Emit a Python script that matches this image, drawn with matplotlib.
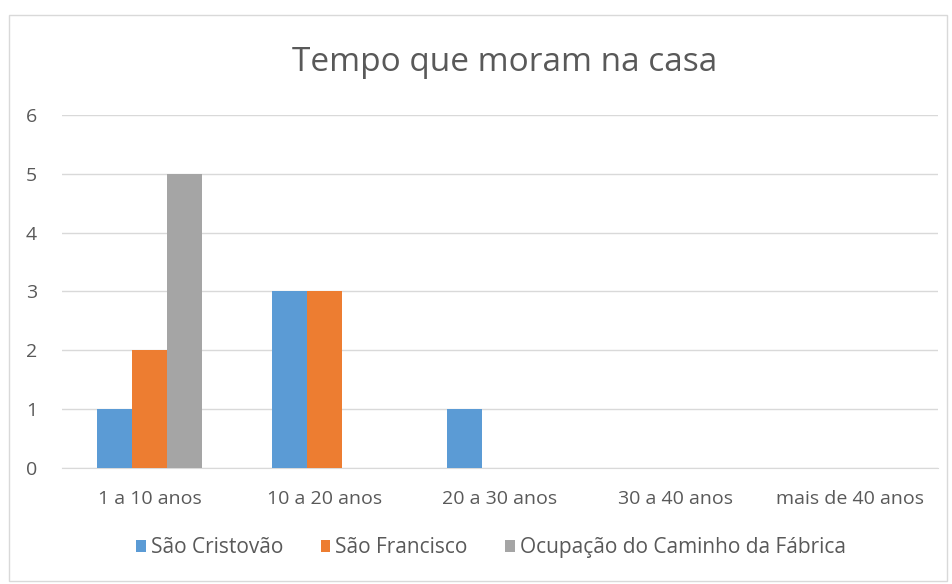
import matplotlib.pyplot as plt
import numpy as np

categorias = ["1 a 10 anos", "10 a 20 anos", "20 a 30 anos", "30 a 40 anos", "mais de 40 anos"]
sao_cristovao = [1, 3, 1, 0, 0]
sao_francisco = [2, 3, 0, 0, 0]
ocupacao = [5, 0, 0, 0, 0]
series = ["São Cristovão", "São Francisco", "Ocupação do Caminho da Fábrica"]
cores = ["#5B9BD5", "#ED7D31", "#A5A5A5"]

plt.rcParams["font.family"] = ["Open Sans", "DejaVu Sans"]
texto = "#595959"

fig = plt.figure(figsize=(9.53, 5.84), dpi=100)
ax = fig.add_axes([0.065, 0.199, 0.919, 0.604])

x = np.arange(len(categorias))
w = 0.2
for i, (vals, nome) in enumerate(zip([sao_cristovao, sao_francisco, ocupacao], series)):
    ax.bar(x + (i - 1) * w, vals, w, color=cores[i], label=nome, zorder=3)

ax.set_xlim(-0.5, len(categorias) - 0.5)
ax.set_ylim(0, 6)
ax.set_yticks(range(7))
ax.set_xticks(x)
ax.set_xticklabels(categorias)
ax.grid(axis="y", color="#D9D9D9", linewidth=1, zorder=0)
for s in ["top", "right", "left"]:
    ax.spines[s].set_visible(False)
ax.spines["bottom"].set_color("#D9D9D9")
ax.tick_params(length=0, colors=texto, labelsize=14, pad=16)
ax.tick_params(axis="y", pad=18)

fig.text(0.529, 0.893, "Tempo que moram na casa", ha="center", va="center",
         fontsize=24, color=texto)

ax.legend(loc="center", bbox_to_anchor=(0.49, -0.227), ncol=3, frameon=False,
          fontsize=15, labelcolor=texto, handlelength=0.45, handleheight=0.45,
          handletextpad=0.25, columnspacing=1.8)

fig.patches.append(plt.Rectangle((0.009, 0.005), 0.985, 0.97, transform=fig.transFigure,
                                 fill=False, edgecolor="#D9D9D9", linewidth=1))

fig.savefig("out.png", dpi=100)
